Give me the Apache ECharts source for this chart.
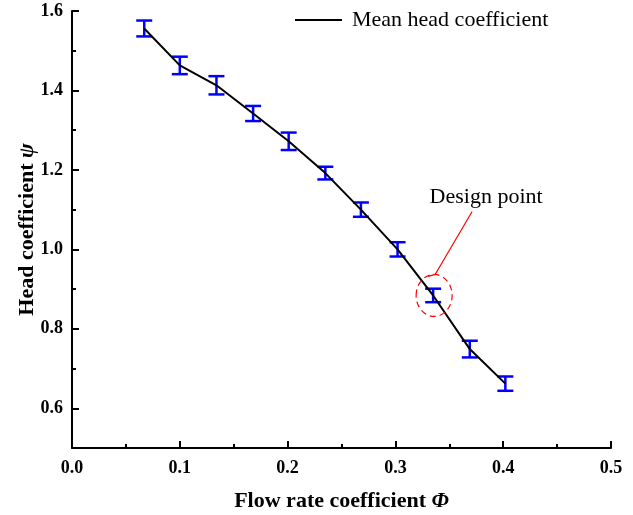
<!DOCTYPE html>
<html>
<head>
<meta charset="utf-8">
<script src="https://cdn.jsdelivr.net/npm/echarts@6/dist/echarts.min.js"></script>
<style>
html,body{margin:0;padding:0;background:#fff;}
#chart{width:633px;height:515px;}
</style>
</head>
<body>
<div id="chart"></div>
<script>
// ---- data ----
const phi = [0.067, 0.100, 0.134, 0.168, 0.201, 0.235, 0.268, 0.302, 0.335, 0.369, 0.402];
const psi = [1.556, 1.463, 1.413, 1.342, 1.272, 1.192, 1.100, 1.000, 0.884, 0.749, 0.662];
const err = [0.020, 0.022, 0.023, 0.019, 0.022, 0.016, 0.018, 0.018, 0.017, 0.021, 0.018];
const yMajorTicks = [0.6, 0.8, 1.0, 1.2, 1.4, 1.6];
const yMinorTicks = [0.7, 0.9, 1.1, 1.3, 1.5];
const designPoint = [0.335, 0.884];
const seriesName = 'Mean head coefficient';
const designLabel = 'Design point';

const SERIF = "'Times New Roman', 'Liberation Serif', serif";

const lineData = phi.map((x, i) => [x, psi[i]]);
const errData = phi.map((x, i) => [x, psi[i] - err[i], psi[i] + err[i]]);

const chart = echarts.init(document.getElementById('chart'), null, {renderer: 'canvas'});

const tickLabelStyle = {fontFamily: SERIF, fontWeight: 'bold', fontSize: 18, color: '#000'};

const option = {
  backgroundColor: '#fff',
  animation: false,
  grid: {left: 72, right: 22, top: 11, bottom: 67, containLabel: false, outerBoundsMode: 'none'},
  legend: {
    data: [{name: seriesName, icon: 'rect'}],
    left: 295, top: 9, padding: 0,
    itemWidth: 47, itemHeight: 2,
    textStyle: {fontFamily: SERIF, fontSize: 22, color: '#000', padding: [0, 0, 0, 5]}
  },
  xAxis: {
    type: 'value', min: 0, max: 0.5, interval: 0.1,
    axisLine: {show: true, lineStyle: {color: '#000', width: 2}},
    axisTick: {show: true, inside: true, length: 7, lineStyle: {color: '#000', width: 2}},
    minorTick: {show: true, splitNumber: 2, length: 4, lineStyle: {color: '#000', width: 2}},
    splitLine: {show: false},
    axisLabel: Object.assign({margin: 11, formatter: v => v.toFixed(1)}, tickLabelStyle),
    name: 'Flow rate coefficient {i|Φ}',
    nameLocation: 'middle', nameGap: 42, nameMoveOverlap: false,
    nameTextStyle: {fontFamily: SERIF, fontWeight: 'bold', fontSize: 22, color: '#000',
      rich: {i: {fontFamily: SERIF, fontWeight: 'bold', fontStyle: 'italic', fontSize: 22, color: '#000'}}}
  },
  yAxis: [{
    type: 'value', min: 0.5, max: 1.6, interval: 0.1,
    axisLine: {show: true, lineStyle: {color: '#000', width: 2}},
    axisTick: {show: true, inside: true, length: 7, customValues: yMajorTicks, lineStyle: {color: '#000', width: 2}},
    splitLine: {show: false},
    axisLabel: Object.assign({margin: 9, customValues: yMajorTicks, formatter: v => v.toFixed(1)}, tickLabelStyle),
    name: 'Head coefficient {i|ψ}',
    nameLocation: 'middle', nameGap: 34, nameRotate: 90, nameMoveOverlap: false,
    nameTextStyle: {fontFamily: SERIF, fontWeight: 'bold', fontSize: 22, color: '#000',
      rich: {i: {fontFamily: SERIF, fontStyle: 'italic', fontSize: 22, color: '#000'}}}
  }, {
    type: 'value', min: 0.5, max: 1.6, interval: 0.1, position: 'left', offset: 0,
    axisLine: {show: false},
    axisTick: {show: true, inside: true, length: 4, customValues: yMinorTicks, lineStyle: {color: '#000', width: 2}},
    splitLine: {show: false},
    axisLabel: {show: false}
  }],
  series: [{
    name: 'error',
    type: 'custom',
    z: 2,
    data: errData,
    encode: {x: 0, y: [1, 2]},
    renderItem: function (params, api) {
      const x = api.value(0);
      const top = api.coord([x, api.value(2)]);
      const bot = api.coord([x, api.value(1)]);
      const hw = 8;
      const st = {stroke: '#0000ff', lineWidth: 2.5};
      return {type: 'group', children: [
        {type: 'line', shape: {x1: top[0], y1: top[1], x2: bot[0], y2: bot[1]}, style: st},
        {type: 'line', shape: {x1: top[0] - hw, y1: top[1], x2: top[0] + hw, y2: top[1]}, style: st},
        {type: 'line', shape: {x1: bot[0] - hw, y1: bot[1], x2: bot[0] + hw, y2: bot[1]}, style: st}
      ]};
    }
  }, {
    name: seriesName,
    type: 'line',
    z: 3,
    data: lineData,
    showSymbol: false,
    symbol: 'none',
    color: '#000',
    lineStyle: {color: '#000', width: 2}
  }]
};

chart.setOption(option);

// annotation anchored to the design point through the chart's own scales
const p = chart.convertToPixel({xAxisIndex: 0, yAxisIndex: 0}, designPoint);
chart.setOption({
  graphic: [
    {type: 'ellipse', shape: {cx: p[0] + 1, cy: p[1], rx: 18, ry: 21},
      style: {fill: 'none', stroke: '#ff0000', lineWidth: 1.2, lineDash: [6, 4]}, z: 10},
    {type: 'polyline', shape: {points: [[p[0] - 5, p[1] - 19], [p[0] + 2, p[1] - 21], [p[0] + 39, p[1] - 84]]},
      style: {fill: 'none', stroke: '#ff0000', lineWidth: 1.2}, z: 10},
    {type: 'text', x: p[0] + 53, y: p[1] - 87,
      style: {text: designLabel, fontFamily: SERIF, fontSize: 22, fill: '#000', align: 'center', verticalAlign: 'bottom'}, z: 10}
  ]
});
</script>
</body>
</html>
